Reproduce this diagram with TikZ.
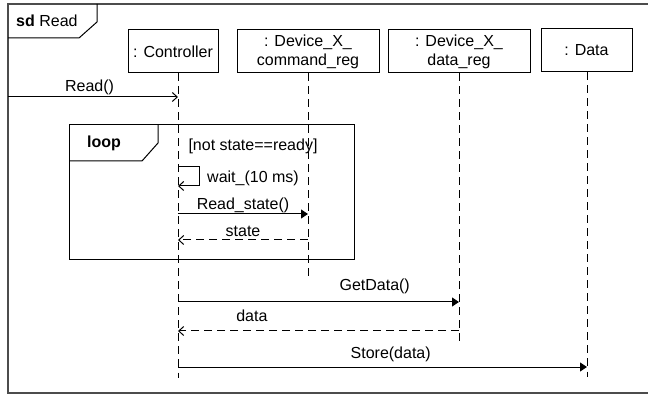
\documentclass[tikz,border=0pt]{standalone}
\usepackage{fontspec}
\setmainfont{Liberation Sans}
\usetikzlibrary{arrows.meta}
\begin{document}
\begin{tikzpicture}[x=1pt,y=-1pt,
  every node/.style={font=\fontsize{16}{19}\selectfont},
  obj/.style={draw, line width=1pt, inner sep=0pt, minimum height=43pt, align=center},
  life/.style={line width=1pt, dash pattern=on 8pt off 5pt},
  sync/.style={line width=1pt, -{Triangle[length=7pt,width=9pt]}},
  async/.style={line width=1pt, -{Straight Barb[length=5pt,width=9pt]}},
  reply/.style={async, dash pattern=on 8pt off 5pt},
  lbl/.style={anchor=base, inner sep=0pt},
  framebox/.style={draw=black!70, line width=1.6pt},
  tab/.style={line width=1pt}
]
\useasboundingbox (0,0) rectangle (648,395);
% outer frame
\draw[framebox] (8,4) rectangle (655,393);
\draw[tab] (8,38) -- (79,38) -- (97,22) -- (97,4);
\node[lbl, anchor=base west] (sdlbl) at (16,27) {\textbf{sd} Read};

% lifeline heads
\node[obj, minimum width=90pt] (ctrl) at (173,51.5) {: Controller};
\node[obj, minimum width=142pt] (cmd) at (308,51.5) {: Device\_X\_\\command\_reg};
\node[obj, minimum width=142pt] (dreg) at (459,51.5) {: Device\_X\_\\data\_reg};
\node[obj, minimum width=91pt] (data) at (586.5,50.5) {: Data};

% lifeline ends
\coordinate (ctrlEnd) at (178,378);
\coordinate (cmdEnd) at (308,276);
\coordinate (dregEnd) at (459,346);
\coordinate (dataEnd) at (587,377);
\draw[life] (ctrlEnd |- ctrl.south) -- (ctrlEnd);
\draw[life] (cmd) -- (cmdEnd);
\draw[life] (dreg) -- (dregEnd);
\draw[life] (dataEnd |- data.south) -- (dataEnd);

% y levels
\coordinate (fl) at (8,97);
\coordinate (ySelfTop) at (0,167);
\coordinate (ySelfBot) at (0,186);
\coordinate (yRS) at (0,214);
\coordinate (ySt) at (0,240);
\coordinate (yGD) at (0,302);
\coordinate (yD) at (0,331);
\coordinate (yStore) at (0,367);

% Read()
\draw[async] (fl) -- (ctrlEnd |- fl) node[lbl, pos=0.48, yshift=5pt] (lRead) {Read()};

% loop fragment
\draw[line width=1pt] (69,125) rectangle (354,260);
\draw[tab] (69,161) -- (142,161) -- (158,143) -- (158,125);
\node[lbl] (loopl) at (104,148) {\textbf{loop}};
\node[lbl] (guard) at (253,151) {[not state==ready]};

% self message
\draw[async] (ctrlEnd |- ySelfTop) -- ++(21,0) |- (ctrlEnd |- ySelfBot);
\node[lbl, anchor=base west] (lwait) at (207,183) {wait\_(10 ms)};

% Read_state / state
\draw[sync] (ctrlEnd |- yRS) -- (cmdEnd |- yRS) node[lbl, midway, yshift=4pt] (lRS) {Read\_state()};
\draw[reply] (cmdEnd |- ySt) -- (ctrlEnd |- ySt) node[lbl, midway, yshift=3pt] (lSt) {state};

% GetData / data
\draw[sync] (ctrlEnd |- yGD) -- (dregEnd |- yGD) node[lbl, pos=0.70, yshift=11pt] (lGD) {GetData()};
\draw[reply] (dregEnd |- yD) -- (ctrlEnd |- yD) node[lbl, pos=0.737, yshift=9pt] (lD) {data};

% Store
\draw[sync] (ctrlEnd |- yStore) -- (dataEnd |- yStore) node[lbl, pos=0.52, yshift=8pt] (lStore) {Store(data)};
\end{tikzpicture}
\end{document}
